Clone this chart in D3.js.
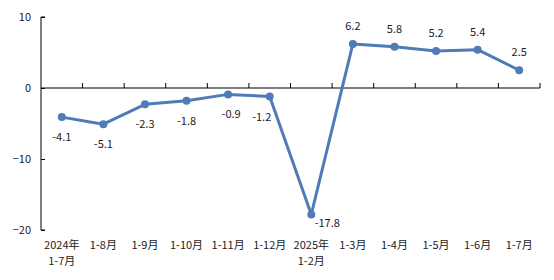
<!DOCTYPE html>
<html>
<head>
<meta charset="utf-8">
<script src="https://cdn.jsdelivr.net/npm/d3@7"></script>
<style>
  body { margin: 0; background: #fff; }
  text { font-family: "Noto Sans CJK SC", "Noto Sans", sans-serif; font-size: 11px; fill: #222; }
</style>
</head>
<body>
<svg id="chart" width="554" height="280"></svg>
<script>
"use strict";
// categories: first line / second line of each x label
const catLine1 = ["2024年", "1-8月", "1-9月", "1-10月", "1-11月", "1-12月", "2025年", "1-3月", "1-4月", "1-5月", "1-6月", "1-7月"];
const catLine2 = ["1-7月", "", "", "", "", "", "1-2月", "", "", "", "", ""];
const values = [-4.1, -5.1, -2.3, -1.8, -0.9, -1.2, -17.8, 6.2, 5.8, 5.2, 5.4, 2.5];
const yTicks = [10, 0, -10, -20];

const margin = { left: 41, right: 14, top: 17, bottom: 50 };
const width = 554, height = 280;
const svg = d3.select("#chart");

const x = d3.scaleBand()
    .domain(d3.range(values.length))
    .range([margin.left, width - margin.right]);
const y = d3.scaleLinear()
    .domain([-20, 10])
    .range([height - margin.bottom, margin.top]);

// y axis, ticks point inward
const yAxis = svg.append("g")
    .attr("transform", `translate(${margin.left},0)`)
    .call(d3.axisRight(y).tickValues(yTicks).tickSize(4).tickFormat(d3.format("d")));
yAxis.select(".domain").attr("stroke", "#000").attr("d", `M4,${y(10)}H0V${y(-20)}H4`);
yAxis.selectAll(".tick line").attr("stroke", "#000");
yAxis.selectAll(".tick text")
    .attr("x", -10)
    .attr("text-anchor", "end")
    .attr("font-family", null)
    .attr("font-size", null);

// zero line with category boundary ticks pointing up
const xAxis = svg.append("g")
    .attr("transform", `translate(0,${y(0)})`);
xAxis.append("line")
    .attr("x1", margin.left).attr("x2", width - margin.right)
    .attr("stroke", "#000");
xAxis.selectAll(".btick")
    .data(d3.range(1, values.length + 1))
    .join("line")
    .attr("class", "btick")
    .attr("x1", (i) => x(i - 1) + x.bandwidth())
    .attr("x2", (i) => x(i - 1) + x.bandwidth())
    .attr("y1", 0).attr("y2", -5)
    .attr("stroke", "#000");

// x labels at the bottom
const labels = svg.append("g");
labels.selectAll(".l1")
    .data(catLine1)
    .join("text")
    .attr("x", (d, i) => x(i) + x.bandwidth() / 2)
    .attr("y", 249)
    .attr("text-anchor", "middle")
    .text((d) => d);
labels.selectAll(".l2")
    .data(catLine2)
    .join("text")
    .attr("x", (d, i) => x(i) + x.bandwidth() / 2)
    .attr("y", 265)
    .attr("text-anchor", "middle")
    .text((d) => d);

// series line
const cx = (i) => x(i) + x.bandwidth() / 2;
svg.append("path")
    .datum(values)
    .attr("fill", "none")
    .attr("stroke", "#4F7CB8")
    .attr("stroke-width", 3)
    .attr("stroke-linejoin", "round")
    .attr("d", d3.line().x((d, i) => cx(i)).y((d) => y(d)));

svg.selectAll(".pt")
    .data(values)
    .join("circle")
    .attr("cx", (d, i) => cx(i))
    .attr("cy", (d) => y(d))
    .attr("r", 4)
    .attr("fill", "#4F7CB8");

// data labels, a couple nudged off the line like the original
const labelDx = (d) => (d === -17.8 ? 16 : d === -1.2 ? -8 : d === -0.9 ? 3 : 0);
svg.selectAll(".val")
    .data(values)
    .join("text")
    .attr("x", (d, i) => cx(i) + labelDx(d))
    .attr("y", (d) => (d < 0 ? y(d) + (d === -17.8 ? 13 : 24) : y(d) - 14))
    .attr("text-anchor", "middle")
    .text((d) => d.toFixed(1));
</script>
</body>
</html>
